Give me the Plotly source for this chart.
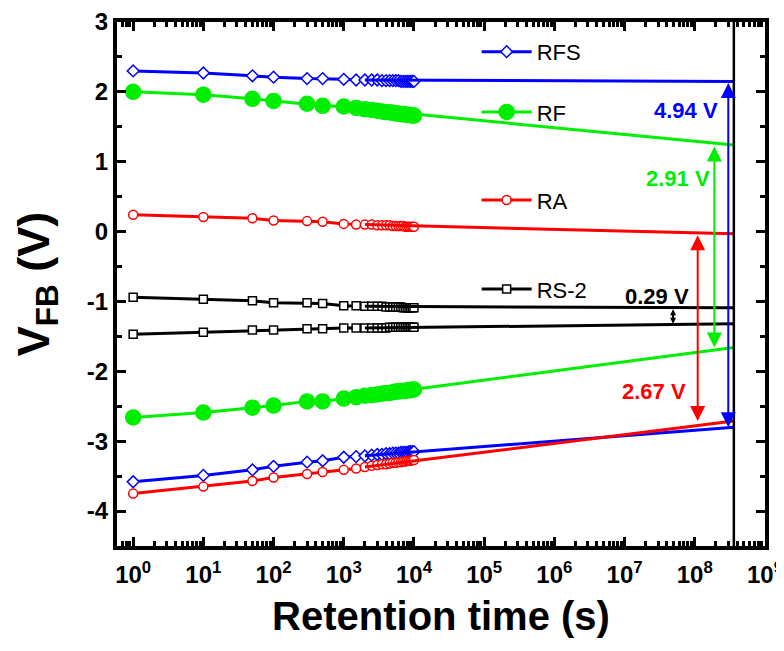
import plotly.graph_objects as go
import math

# ---------------- data ----------------
time_s = [1, 10, 50, 100, 300, 500, 1000, 1500, 2000, 2500, 3000, 3500, 4000,
          4500, 5000, 5500, 6000, 6500, 7000, 7500, 8000, 8500, 9000, 9500, 10000]

rfs_up = [2.30, 2.27, 2.23, 2.21, 2.19, 2.19, 2.18, 2.17, 2.17, 2.17, 2.17, 2.16, 2.16,
          2.16, 2.16, 2.16, 2.16, 2.15, 2.15, 2.15, 2.15, 2.15, 2.15, 2.15, 2.15]
rfs_lo = [-3.58, -3.49, -3.41, -3.36, -3.30, -3.28, -3.23, -3.22, -3.21, -3.20, -3.19, -3.19, -3.18,
          -3.18, -3.17, -3.17, -3.17, -3.16, -3.16, -3.16, -3.16, -3.15, -3.15, -3.15, -3.15]
rf_up = [2.00, 1.96, 1.90, 1.87, 1.83, 1.80, 1.79, 1.77, 1.75, 1.74, 1.73, 1.72, 1.71,
         1.71, 1.70, 1.69, 1.69, 1.68, 1.68, 1.68, 1.67, 1.67, 1.67, 1.66, 1.66]
rf_lo = [-2.66, -2.59, -2.52, -2.49, -2.43, -2.43, -2.39, -2.37, -2.35, -2.34, -2.33, -2.32, -2.31,
         -2.31, -2.30, -2.29, -2.29, -2.28, -2.28, -2.28, -2.27, -2.27, -2.27, -2.26, -2.26]
ra_up = [0.24, 0.21, 0.19, 0.16, 0.15, 0.14, 0.11, 0.10, 0.10, 0.10, 0.09, 0.09, 0.09,
         0.09, 0.08, 0.08, 0.08, 0.08, 0.08, 0.07, 0.07, 0.07, 0.07, 0.07, 0.07]
ra_lo = [-3.75, -3.65, -3.57, -3.52, -3.47, -3.44, -3.41, -3.39, -3.37, -3.35, -3.34, -3.33, -3.33,
         -3.32, -3.31, -3.31, -3.30, -3.30, -3.29, -3.29, -3.28, -3.28, -3.28, -3.27, -3.27]
rs2_up = [-0.94, -0.97, -0.99, -1.02, -1.02, -1.03, -1.06, -1.06, -1.07, -1.07, -1.07, -1.07, -1.08,
          -1.08, -1.08, -1.08, -1.08, -1.08, -1.09, -1.09, -1.09, -1.09, -1.09, -1.09, -1.09]
rs2_lo = [-1.47, -1.44, -1.41, -1.41, -1.39, -1.39, -1.38, -1.38, -1.38, -1.38, -1.38, -1.38, -1.38,
          -1.37, -1.37, -1.37, -1.37, -1.37, -1.37, -1.37, -1.37, -1.37, -1.37, -1.37, -1.37]

# extrapolation to ten years
ext_time = [2000, 3.6e8]
rfs_up_ext = [2.17, 2.15]
rfs_lo_ext = [-3.21, -2.80]
rf_up_ext = [1.75, 1.24]
rf_lo_ext = [-2.35, -1.66]
ra_up_ext = [0.10, -0.03]
ra_lo_ext = [-3.37, -2.71]
rs2_up_ext = [-1.07, -1.09]
rs2_lo_ext = [-1.38, -1.32]

# memory windows at ten years
window_labels = ["4.94 V", "2.91 V", "2.67 V", "0.29 V"]
window_time = [3.0e8, 1.9e8, 1.1e8, 4.9e7]
window_top = [2.15, 1.24, -0.03, -1.09]
window_bot = [-2.80, -1.66, -2.71, -1.32]
label_time = [7.6e7, 5.8e7, 2.6e7, 2.9e7]
label_y = [1.73, 0.76, -2.29, -0.93]

x_tickvals = [10 ** k for k in range(10)]
x_ticktext = ["10<sup>%d</sup>" % k for k in range(10)]
y_tickvals = [3, 2, 1, 0, -1, -2, -3, -4]
y_ticktext = ["3", "2", "1", "0", "-1", "-2", "-3", "-4"]

# ---------------- figure ----------------
FONT = "Arial, Liberation Sans, sans-serif"
BLUE, GREEN, RED, BLACK = "#0000ff", "#00ee00", "#ff0000", "#000000"

series = [
    ("RFS", BLUE, "diamond", 9, rfs_up, rfs_lo, rfs_up_ext, rfs_lo_ext, "legend", 'white'),
    ("RF", GREEN, "circle", 15, rf_up, rf_lo, rf_up_ext, rf_lo_ext, "legend2", GREEN),
    ("RA", RED, "circle", 9, ra_up, ra_lo, ra_up_ext, ra_lo_ext, "legend3", 'white'),
    ("RS-2", BLACK, "square", 8, rs2_up, rs2_lo, rs2_up_ext, rs2_lo_ext, "legend4", 'white'),
]

fig = go.Figure()
for name, col, sym, size, up, lo, upx, lox, leg, fill in series:
    marker = dict(symbol=sym, size=size, color=fill, line=dict(color=col, width=1.5))
    fig.add_trace(go.Scatter(x=time_s, y=up, mode="lines+markers", name=name,
                             line=dict(color=col, width=3), marker=marker,
                             legend=leg, showlegend=True))
    fig.add_trace(go.Scatter(x=time_s, y=lo, mode="lines+markers", name=name,
                             line=dict(color=col, width=3), marker=marker,
                             showlegend=False))
for name, col, sym, size, up, lo, upx, lox, leg, fill in series:
    for ext in (upx, lox):
        fig.add_trace(go.Scatter(x=ext_time, y=ext, mode="lines",
                                 line=dict(color=col, width=3), showlegend=False))

win_colors = [BLUE, GREEN, RED, BLACK]
for i in range(4):
    xl = math.log10(window_time[i])
    small = i == 3
    fig.add_annotation(x=xl, y=window_bot[i], ax=xl, ay=window_top[i],
                       xref="x", yref="y", axref="x", ayref="y",
                       showarrow=True, arrowhead=2, arrowside="end+start",
                       arrowsize=0.6 if small else 1.5, arrowwidth=2,
                       arrowcolor=win_colors[i], text="")
    fig.add_annotation(x=math.log10(label_time[i]), y=label_y[i], xref="x", yref="y",
                       text="<b>%s</b>" % window_labels[i], showarrow=False,
                       font=dict(family=FONT, size=22, color=win_colors[i]))

fig.add_shape(type="line", xref="x", yref="paper", x0=ext_time[1], x1=ext_time[1],
              y0=0, y1=1, line=dict(color="black", width=2.5))

legend_y = [0.943, 0.828, 0.660, 0.490]
legend_common = dict(x=0.555, xanchor="left", yanchor="middle", bgcolor="rgba(0,0,0,0)",
                     font=dict(family=FONT, size=22, color="black"), itemwidth=50)
fig.update_layout(
    legend=dict(y=legend_y[0], **legend_common),
    legend2=dict(y=legend_y[1], **legend_common),
    legend3=dict(y=legend_y[2], **legend_common),
    legend4=dict(y=legend_y[3], **legend_common),
)

axis_common = dict(showline=True, linewidth=4, linecolor="black", mirror="ticks",
                   ticks="inside", tickwidth=3, ticklen=9, tickcolor="black",
                   showgrid=False, zeroline=False, automargin=False)
fig.update_xaxes(type="log", range=[-0.23, 9.0], tickvals=x_tickvals, ticktext=x_ticktext,
                 tickfont=dict(family=FONT, size=24, color="black", weight="bold"),
                 ticklabelstandoff=4,
                 minor=dict(ticks="inside", ticklen=5, tickwidth=3, tickcolor="black", dtick="D1"),
                 title=dict(text="<b>Retention time (s)</b>", font=dict(family=FONT, size=40, color="black"),
                            standoff=16),
                 **axis_common)
fig.update_yaxes(range=[-4.5, 3], tickvals=y_tickvals, ticktext=y_ticktext,
                 tickfont=dict(family=FONT, size=24, color="black", weight="bold"),
                 minor=dict(ticks="inside", ticklen=5, tickwidth=3, tickcolor="black", dtick=0.5),
                 title=dict(text="<b>V<sub>FB</sub> (V)</b>", font=dict(family=FONT, size=45, color="black"),
                            standoff=28),
                 **axis_common)

# the page adds an 8 px body margin, so the figure is 8 px smaller each way
fig.update_layout(width=776, height=643, margin=dict(l=109, r=19, t=14, b=105),
                  plot_bgcolor="white", paper_bgcolor="white")

fig.write_html("out.html")
